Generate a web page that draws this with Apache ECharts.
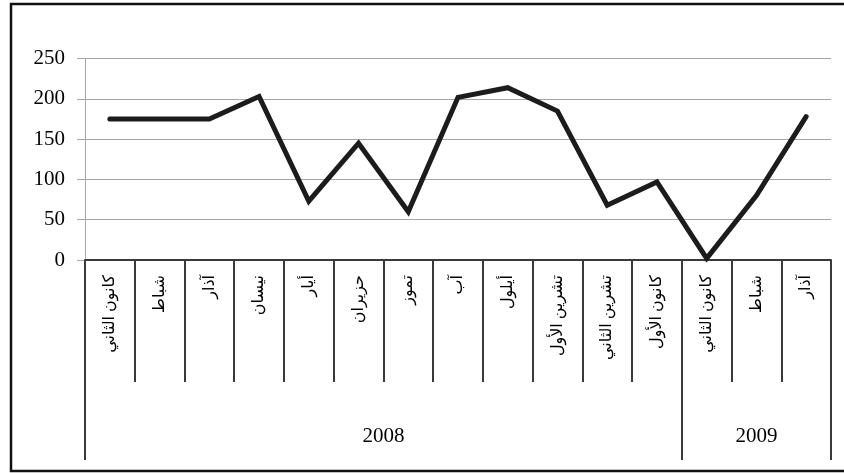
<!DOCTYPE html>
<html>
<head>
<meta charset="utf-8">
<script src="https://cdn.jsdelivr.net/npm/echarts@6/dist/echarts.min.js"></script>
<style>
  html, body { margin: 0; padding: 0; background: #fff; }
  #chart { width: 844px; height: 473px; }
</style>
</head>
<body>
<div id="chart"></div>
<script>
// Monthly values, Jan 2008 – Mar 2009
const months = [
  'كانون الثاني', 'شباط', 'آذار', 'نيسان', 'أيار', 'حزيران', 'تموز', 'آب',
  'أيلول', 'تشرين الأول', 'تشرين الثاني', 'كانون الأول',
  'كانون الثاني', 'شباط', 'آذار'
];
const values = [175, 175, 175, 203, 73, 145, 60, 202, 214, 185, 68, 97, 2, 80, 178];
const years = ['2008', '2009'];
const monthsPerYear = [12, 3];
const yTicks = [0, 50, 100, 150, 200, 250];

// Year band boundaries and centres on a 0..months.length scale
const yearBounds = [0];
monthsPerYear.forEach(n => yearBounds.push(yearBounds[yearBounds.length - 1] + n));
const yearCentres = monthsPerYear.map((n, i) => yearBounds[i] + n / 2);

const serif = '"Liberation Serif", "Times New Roman", "DejaVu Serif", serif';
const arabic = '"Liberation Serif", "DejaVu Sans", sans-serif';

const chart = echarts.init(document.getElementById('chart'), null, { renderer: 'canvas' });
chart.setOption({
  animation: false,
  backgroundColor: '#ffffff',
  graphic: [{
    type: 'rect',
    shape: { x: 11, y: 4, width: 845, height: 467 },
    style: { fill: 'none', stroke: '#111', lineWidth: 2.5 },
    silent: true
  }],
  grid: { left: 85, right: 13, top: 58.7, bottom: 213 },
  xAxis: [{
    type: 'category',
    data: months,
    boundaryGap: true,
    axisLine: { show: true, lineStyle: { color: '#3a3a3a', width: 2 } },
    axisTick: { show: true, interval: 0, length: 122, lineStyle: { color: '#3a3a3a', width: 2 } },
    axisLabel: {
      interval: 0, rotate: 90, margin: 15,
      fontFamily: arabic, fontSize: 16, color: '#000'
    },
    splitLine: { show: false }
  }, {
    type: 'value',
    position: 'bottom',
    min: 0,
    max: months.length,
    axisLine: { show: false },
    axisTick: {
      show: true, length: 200, customValues: yearBounds,
      lineStyle: { color: '#3a3a3a', width: 2 }
    },
    axisLabel: {
      show: true, margin: 166, customValues: yearCentres,
      formatter: v => years[yearCentres.indexOf(v)] || '',
      fontFamily: serif, fontSize: 21, color: '#000'
    },
    splitLine: { show: false }
  }],
  yAxis: {
    type: 'value',
    min: 0, max: 250, interval: 50,
    axisLine: { show: true, lineStyle: { color: '#a6a6a6', width: 1 } },
    axisTick: { show: true, length: 8, lineStyle: { color: '#a6a6a6' } },
    axisLabel: {
      margin: 20, fontFamily: serif, fontSize: 21, color: '#000',
      formatter: v => (yTicks.indexOf(v) >= 0 ? String(v) : '')
    },
    splitLine: { show: true, lineStyle: { color: '#a6a6a6', width: 1 } }
  },
  series: [{
    type: 'line',
    xAxisIndex: 0,
    data: values,
    symbol: 'none',
    lineStyle: { color: '#1c1c1c', width: 5, join: 'miter', cap: 'round' },
    z: 5
  }]
});
</script>
</body>
</html>
